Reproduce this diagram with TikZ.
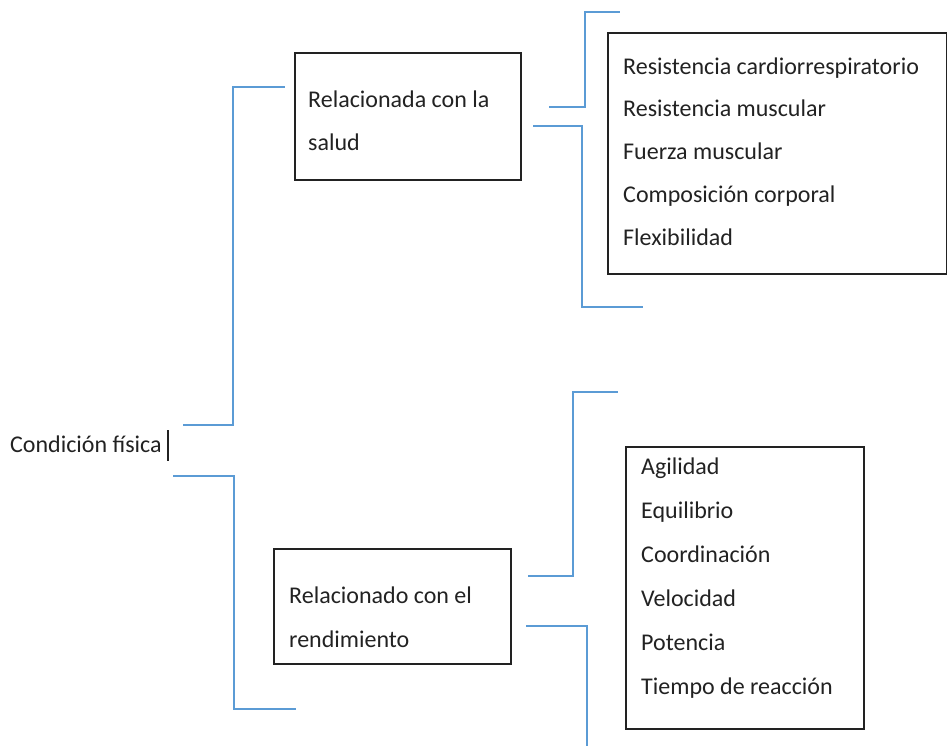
\documentclass[tikz,border=0pt]{standalone}
\usepackage{fontspec}
\setmainfont{Carlito}
\definecolor{brkblue}{RGB}{91,155,213}
\definecolor{ink}{RGB}{34,34,34}
\begin{document}
\begin{tikzpicture}[x=1pt,y=-1pt,
  brk/.style={draw=brkblue, line width=2pt},
  box/.style={draw=ink, line width=1.6pt, inner sep=0, anchor=north west},
  lbl/.style={anchor=base west, inner sep=0, font=\fontsize{24}{28}\selectfont, text=ink}]
\useasboundingbox (0,0) rectangle (947,746);
% root
\node[lbl] (root) at (10,452) {Condición física};
\coordinate (cur1) at (168,430);
\coordinate (cur2) at (168,461);
\draw[ink, line width=1.3pt] (cur1) -- (cur2);
% boxes
\node[box, minimum width=226, minimum height=127] (b1) at (294,52) {};
\node[lbl] (b1a) at (308,108) {Relacionada con la};
\node[lbl] (b1b) at (308,151) {salud};
\node[box, minimum width=339, minimum height=241] (b2) at (607,32) {};
\node[lbl] (s1) at (623,75) {Resistencia cardiorrespiratorio};
\node[lbl] (s2) at (623,117) {Resistencia muscular};
\node[lbl] (s3) at (623,160) {Fuerza muscular};
\node[lbl] (s4) at (623,202) {Composición corporal};
\node[lbl] (s5) at (623,245) {Flexibilidad};
\node[box, minimum width=237, minimum height=115] (b3) at (273,548) {};
\node[lbl] (b3a) at (289,603) {Relacionado con el};
\node[lbl] (b3b) at (289,647) {rendimiento};
\node[box, minimum width=238, minimum height=282] (b4) at (625,446) {};
\node[lbl] (r1) at (641,474) {Agilidad};
\node[lbl] (r2) at (641,518) {Equilibrio};
\node[lbl] (r3) at (641,562) {Coordinación};
\node[lbl] (r4) at (641,606) {Velocidad};
\node[lbl] (r5) at (641,650) {Potencia};
\node[lbl] (r6) at (641,694) {Tiempo de reacción};
% bracket ends
\coordinate (a1) at (183,425); \coordinate (a2) at (285,87);
\coordinate (c1) at (173,476); \coordinate (c2) at (296,709);
\coordinate (d1) at (549,107); \coordinate (d2) at (620,12);
\coordinate (e1) at (533,126); \coordinate (e2) at (643,307);
\coordinate (f1) at (528,576); \coordinate (f2) at (618,392);
\coordinate (g1) at (526,626); \coordinate (g2) at (587,746);
% brackets
\draw[brk] (a1) -- (233,425) -- (233,87) -- (a2);
\draw[brk] (c1) -- (234,476) -- (234,709) -- (c2);
\draw[brk] (d1) -- (585,107) -- (585,12) -- (d2);
\draw[brk] (e1) -- (582,126) -- (582,307) -- (e2);
\draw[brk] (f1) -- (573,576) -- (573,392) -- (f2);
\draw[brk] (g1) -- (587,626) -- (g2);
\end{tikzpicture}
\end{document}
